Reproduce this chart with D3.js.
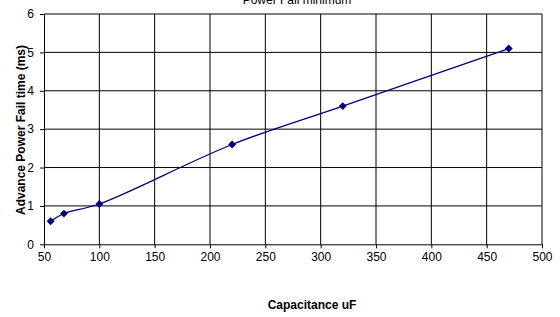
<!DOCTYPE html>
<html><head><meta charset="utf-8">
<script src="https://cdn.jsdelivr.net/npm/d3@7/dist/d3.min.js"></script>
<style>body{margin:0;background:#fff}svg{display:block}text{font-family:Arial,"Liberation Sans",sans-serif}</style>
</head><body><svg id="c" width="560" height="317"></svg>
<script>
const capacitance = [56, 68, 100, 220, 320, 470];
const failTime = [0.6, 0.8, 1.05, 2.6, 3.6, 5.1];
const xTicks = [50,100,150,200,250,300,350,400,450,500];
const yTicks = [0,1,2,3,4,5,6];
const title = "Power Fail minimum";
const xLabel = "Capacitance uF";
const yLabel = "Advance Power Fail time (ms)";

const svg = d3.select("#c");
const x = d3.scaleLinear().domain([50,500]).range([44,542]);
const y = d3.scaleLinear().domain([0,6]).range([244.3,14]);

const g = svg.append("g");
g.selectAll(".vg").data(xTicks.slice(1)).join("line")
  .attr("x1",d=>x(d)).attr("x2",d=>x(d)).attr("y1",y(0)).attr("y2",y(6))
  .attr("stroke","#000").attr("stroke-width",1);
g.selectAll(".hg").data(yTicks.slice(1)).join("line")
  .attr("x1",x(50)).attr("x2",x(500)).attr("y1",d=>y(d)).attr("y2",d=>y(d))
  .attr("stroke","#000").attr("stroke-width",1);

const xa = svg.append("g").attr("transform",`translate(0,${y(0)})`)
  .call(d3.axisBottom(x).tickValues(xTicks).tickFormat(d3.format("d")).tickSize(4).tickSizeOuter(0).tickPadding(4));
const ya = svg.append("g").attr("transform",`translate(${x(50)},0)`)
  .call(d3.axisLeft(y).tickValues(yTicks).tickFormat(d3.format("d")).tickSize(4).tickSizeOuter(0).tickPadding(6));
[xa,ya].forEach(a=>{
  a.selectAll("path,line").attr("stroke","#000");
  a.selectAll("text").attr("font-size","12px").attr("fill","#000").attr("font-family","Arial, 'Liberation Sans', sans-serif");
});

const pts = capacitance.map((c,i)=>[c,failTime[i]]);
svg.append("path").datum(pts)
  .attr("d", d3.line().x(d=>x(d[0])).y(d=>y(d[1])).curve(d3.curveCatmullRom.alpha(0.5)))
  .attr("fill","none").attr("stroke","#000080").attr("stroke-width",1.3);
svg.selectAll(".m").data(pts).join("path")
  .attr("transform",d=>`translate(${x(d[0])},${y(d[1])})`)
  .attr("d", d3.symbol(d3.symbolDiamond2, 40)())
  .attr("fill","#000080");

svg.append("text").attr("x",297).attr("y",4).attr("text-anchor","middle")
  .attr("font-size","12px").text(title);
svg.append("text").attr("x",312).attr("y",309).attr("text-anchor","middle")
  .attr("font-size","12px").attr("font-weight","bold").text(xLabel);
svg.append("text").attr("transform","translate(25,130) rotate(-90)").attr("text-anchor","middle")
  .attr("font-size","12px").attr("font-weight","bold").text(yLabel);
</script></body></html>
